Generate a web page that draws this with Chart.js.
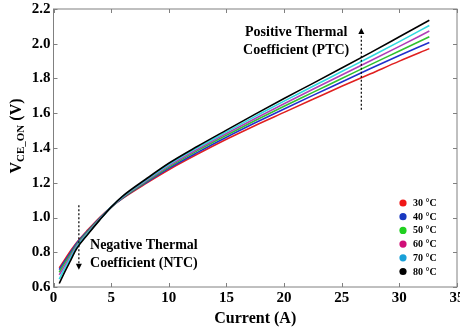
<!DOCTYPE html>
<html>
<head>
<meta charset="utf-8">
<script src="https://cdn.jsdelivr.net/npm/chart.js@4.4.0/dist/chart.umd.min.js"></script>
<style>
  html, body { margin: 0; padding: 0; background: #fff; }
</style>
</head>
<body>
<canvas id="myChart" width="460" height="328"></canvas>
<script>
// collector-emitter on-state voltage vs. current, per junction temperature
const current = [0.5, 1, 1.5, 2, 3, 4, 5, 6, 8, 10, 12.5, 15, 17.5, 20, 22.5, 25, 27.5, 30, 32.6];

const v30 = [0.71, 0.76, 0.81, 0.855, 0.93, 1.0, 1.06, 1.11, 1.195, 1.275, 1.365, 1.45, 1.53, 1.605, 1.68, 1.755, 1.827, 1.9, 1.972];
const v40 = [0.7, 0.75, 0.8, 0.85, 0.925, 0.995, 1.06, 1.112, 1.2, 1.283, 1.375, 1.462, 1.545, 1.625, 1.703, 1.78, 1.857, 1.932, 2.007];
const v50 = [0.685, 0.74, 0.79, 0.842, 0.92, 0.992, 1.06, 1.115, 1.205, 1.29, 1.385, 1.473, 1.558, 1.64, 1.72, 1.8, 1.88, 1.958, 2.04];
const v60 = [0.67, 0.725, 0.78, 0.835, 0.915, 0.99, 1.06, 1.118, 1.21, 1.297, 1.393, 1.483, 1.57, 1.655, 1.738, 1.82, 1.902, 1.985, 2.073];
const v70 = [0.645, 0.71, 0.77, 0.828, 0.91, 0.987, 1.06, 1.12, 1.215, 1.305, 1.402, 1.493, 1.582, 1.67, 1.755, 1.84, 1.925, 2.012, 2.105];
const v80 = [0.62, 0.69, 0.755, 0.82, 0.905, 0.985, 1.06, 1.123, 1.22, 1.312, 1.41, 1.503, 1.595, 1.685, 1.772, 1.86, 1.949, 2.04, 2.135];

const seriesLabels = ["30 °C", "40 °C", "50 °C", "60 °C", "70 °C", "80 °C"];
const seriesValues = [v30, v40, v50, v60, v70, v80];

const xTicks = [0, 5, 10, 15, 20, 25, 30, 35];
const yTicks = [0.6, 0.8, 1.0, 1.2, 1.4, 1.6, 1.8, 2.0, 2.2];

const lineColors = ["#e02020", "#2030cc", "#30c030", "#b040b8", "#30d8e0", "#000000"];
const dotColors = ["#f01818", "#1838c0", "#20d020", "#d01078", "#18a0d8", "#000000"];

const FONT = "'Liberation Serif', 'Times New Roman', serif";

const datasets = seriesValues.map((vals, i) => ({
  label: seriesLabels[i],
  data: current.map((c, k) => ({ x: c, y: vals[k] })),
  borderColor: lineColors[i],
  pointBackgroundColor: dotColors[i],
  borderWidth: 1.6,
  pointRadius: 0,
  cubicInterpolationMode: "monotone",
  order: seriesValues.length - i, // hottest curve on top
}));

// dotted arrow from (x0,y0) to tip at (x1,y1), pixel coords
function dottedArrow(ctx, x0, y0, x1, y1) {
  const dir = Math.sign(y1 - y0);
  ctx.save();
  ctx.strokeStyle = "#000";
  ctx.lineWidth = 1.2;
  ctx.setLineDash([2, 2]);
  ctx.beginPath();
  ctx.moveTo(x0, y0);
  ctx.lineTo(x1, y1 - dir * 4);
  ctx.stroke();
  ctx.setLineDash([]);
  ctx.fillStyle = "#000";
  ctx.beginPath();
  ctx.moveTo(x1, y1);
  ctx.lineTo(x1 - 3, y1 - dir * 6);
  ctx.lineTo(x1 + 3, y1 - dir * 6);
  ctx.closePath();
  ctx.fill();
  ctx.restore();
}

const decorations = {
  id: "decorations",
  afterDraw(chart) {
    const { ctx, chartArea: a, scales } = chart;
    const x = scales.x, y = scales.y;
    ctx.save();

    // frame with inward ticks on all four sides
    ctx.strokeStyle = "#808080";
    ctx.lineWidth = 1;
    ctx.strokeRect(a.left, a.top, a.right - a.left, a.bottom - a.top);
    ctx.beginPath();
    xTicks.forEach((t) => {
      const px = Math.round(x.getPixelForValue(t)) + 0.5;
      ctx.moveTo(px, a.bottom); ctx.lineTo(px, a.bottom - 4);
      ctx.moveTo(px, a.top); ctx.lineTo(px, a.top + 4);
    });
    yTicks.forEach((t) => {
      const py = Math.round(y.getPixelForValue(t)) + 0.5;
      ctx.moveTo(a.left, py); ctx.lineTo(a.left + 4, py);
      ctx.moveTo(a.right, py); ctx.lineTo(a.right - 4, py);
    });
    ctx.stroke();

    // y axis title with subscript
    const main = "bold 16px " + FONT;
    const sub = "bold 11px " + FONT;
    ctx.font = main;
    const wV = ctx.measureText("V").width;
    const wTail = ctx.measureText(" (V)").width;
    ctx.font = sub;
    const wSub = ctx.measureText("CE_ON").width;
    const total = wV + wSub + wTail;
    ctx.translate(20.5, 136 + total / 2);
    ctx.rotate(-Math.PI / 2);
    ctx.fillStyle = "#000";
    ctx.textBaseline = "alphabetic";
    ctx.textAlign = "left";
    ctx.font = main;
    ctx.fillText("V", 0, 0);
    ctx.font = sub;
    ctx.fillText("CE_ON", wV, 3);
    ctx.font = main;
    ctx.fillText(" (V)", wV + wSub, 0);
    ctx.setTransform(1, 0, 0, 1, 0, 0);

    // legend inside the plot, lower right
    ctx.font = "bold 10px " + FONT;
    ctx.textBaseline = "middle";
    seriesLabels.forEach((lab, i) => {
      const cy = 203 + i * 13.7;
      ctx.fillStyle = dotColors[i];
      ctx.beginPath();
      ctx.arc(403, cy, 3.6, 0, Math.PI * 2);
      ctx.fill();
      ctx.fillStyle = "#000";
      ctx.fillText(lab, 413, cy + 0.5);
    });

    // thermal coefficient annotations
    dottedArrow(ctx, x.getPixelForValue(2.2), y.getPixelForValue(1.07),
                x.getPixelForValue(2.2), y.getPixelForValue(0.70));
    dottedArrow(ctx, x.getPixelForValue(26.7), y.getPixelForValue(1.62),
                x.getPixelForValue(26.7), y.getPixelForValue(2.09));

    ctx.font = "bold 14px " + FONT;
    ctx.fillStyle = "#000";
    ctx.textAlign = "left";
    ctx.fillText("Negative Thermal", x.getPixelForValue(3.17), y.getPixelForValue(0.842));
    ctx.fillText("Coefficient (NTC)", x.getPixelForValue(3.17), y.getPixelForValue(0.738));
    ctx.textAlign = "center";
    ctx.fillText("Positive Thermal", x.getPixelForValue(21.05), y.getPixelForValue(2.067));
    ctx.fillText("Coefficient (PTC)", x.getPixelForValue(21.05), y.getPixelForValue(1.964));

    ctx.restore();
  },
};

new Chart("myChart", {
  type: "line",
  data: { datasets: datasets },
  options: {
    responsive: false,
    animation: false,
    layout: { padding: { top: 9, right: 3, left: 0, bottom: 0 } },
    plugins: {
      legend: { display: false },
      tooltip: { enabled: false },
    },
    scales: {
      x: {
        type: "linear",
        min: 0,
        max: 35,
        grid: { display: false, drawTicks: false },
        border: { display: false },
        afterBuildTicks: (s) => { s.ticks = xTicks.map((v) => ({ value: v })); },
        afterFit: (s) => { s.height = 41; s.paddingLeft = 0; s.paddingRight = 0; },
        ticks: {
          padding: 2,
          color: "#000",
          maxRotation: 0,
          font: { family: FONT, size: 15, weight: "bold" },
        },
        title: {
          display: true,
          text: "Current (A)",
          color: "#000",
          padding: { top: 1, bottom: 0 },
          font: { family: FONT, size: 16, weight: "bold" },
        },
      },
      y: {
        type: "linear",
        min: 0.6,
        max: 2.2,
        grid: { display: false, drawTicks: false },
        border: { display: false },
        afterBuildTicks: (s) => { s.ticks = yTicks.map((v) => ({ value: v })); },
        afterFit: (s) => { s.width = 53.5; s.paddingTop = 0; s.paddingBottom = 0; },
        ticks: {
          padding: 3,
          color: "#000",
          font: { family: FONT, size: 15, weight: "bold" },
          callback: (v) => v.toFixed(1),
        },
      },
    },
  },
  plugins: [decorations],
});
</script>
</body>
</html>
